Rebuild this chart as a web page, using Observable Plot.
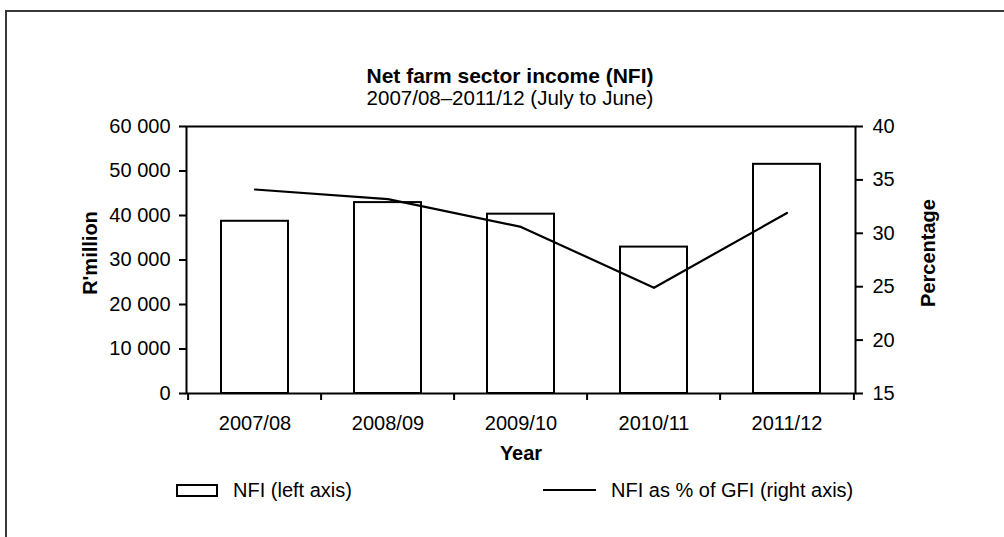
<!DOCTYPE html>
<html><head><meta charset="utf-8">
<script src="https://cdn.jsdelivr.net/npm/d3@7"></script>
<script src="https://cdn.jsdelivr.net/npm/@observablehq/plot@0.6"></script>
<style>
body{margin:0;background:#fff;font-family:"Liberation Sans",Arial,sans-serif;}
#wrap{position:relative;width:1004px;height:537px;overflow:hidden;background:#fff}
#border{position:absolute;left:5px;top:10px;width:1100px;height:700px;border-left:2px solid #383838;border-top:2px solid #383838}
.t{position:absolute;left:0;width:1020px;text-align:center;color:#000;white-space:nowrap;line-height:20px}
#chart{position:absolute;left:0;top:0}
.leg{position:absolute;font-size:20px;line-height:20px;color:#000;white-space:nowrap}
</style></head>
<body>
<div id="wrap">
  <div id="border"></div>
  <div id="chart"></div>
  <div class="t" id="title" style="top:66px;font-size:21px;font-weight:bold"></div>
  <div class="t" id="subtitle" style="top:88px;font-size:20.5px"></div>
  <div id="legBox" style="position:absolute;left:176px;top:484px;width:38px;height:9px;border:2px solid #000;background:#fff"></div>
  <div class="leg" id="legText1" style="left:233px;top:480px"></div>
  <div id="legLine" style="position:absolute;left:543px;top:489px;width:53px;height:2px;background:#000"></div>
  <div class="leg" id="legText2" style="left:611px;top:480px"></div>
</div>
<script>
const titleText = "Net farm sector income (NFI)";
const subtitleText = "2007/08\u20132011/12 (July to June)";
const years = ["2007/08", "2008/09", "2009/10", "2010/11", "2011/12"];
const nfi = [38700, 42900, 40300, 32900, 51500];
const pct = [34.1, 33.2, 30.6, 24.9, 31.9];
const leftTicks = [0, 10000, 20000, 30000, 40000, 50000, 60000];
const rightTicks = [15, 20, 25, 30, 35, 40];
const seriesNames = ["NFI (left axis)", "NFI as % of GFI (right axis)"];
const yLabel = "R'million", y2Label = "Percentage", xLabel = "Year";

document.getElementById("title").textContent = titleText;
document.getElementById("subtitle").textContent = subtitleText;
document.getElementById("legText1").textContent = seriesNames[0];
document.getElementById("legText2").textContent = seriesNames[1];

const yMax = leftTicks[leftTicks.length - 1];
const pMin = rightTicks[0], pMax = rightTicks[rightTicks.length - 1];
const toLeft = p => (p - pMin) / (pMax - pMin) * yMax;
const fromLeft = v => v / yMax * (pMax - pMin) + pMin;
const data = years.map((y, i) => ({year: y, nfi: nfi[i], pct: pct[i]}));

const W = 1004, H = 470, mL = 186, mR = 149, mT = 126, mB = 77;
const plotH = H - mT - mB;
const step = (W - mL - mR) / years.length;
const fmt = d => d3.format(",")(d).replace(/,/g, " ");

const chart = Plot.plot({
  width: W, height: H,
  marginLeft: mL, marginRight: mR, marginTop: mT, marginBottom: mB,
  style: {fontFamily: "Liberation Sans, Arial, sans-serif", fontSize: "20px", color: "#000", background: "transparent"},
  x: {type: "band", domain: years, paddingInner: 0.5, paddingOuter: 0.25},
  y: {domain: [0, yMax]},
  marks: [
    Plot.barY(data, {x: "year", y: "nfi", fill: "white", stroke: "black", strokeWidth: 2}),
    Plot.lineY(data, {x: "year", y: d => toLeft(d.pct), stroke: "black", strokeWidth: 2.2}),
    Plot.frame({stroke: "black", strokeWidth: 2}),
    Plot.axisY({anchor: "left", ticks: leftTicks, tickFormat: fmt, tickSize: 7, tickPadding: 9, strokeWidth: 2, label: null}),
    Plot.axisY({anchor: "right", ticks: rightTicks.map(toLeft), tickFormat: d => String(Math.round(fromLeft(d))), tickSize: 7, tickPadding: 10, strokeWidth: 2, label: null}),
    Plot.axisX({tickSize: 0, tickPadding: 22, label: null}),
    Plot.ruleX(years, {x: d => d, dx: -step / 2, insetTop: plotH, insetBottom: -7, stroke: "black", strokeWidth: 2}),
    Plot.ruleX([years[years.length - 1]], {x: d => d, dx: step / 2, insetTop: plotH, insetBottom: -7, stroke: "black", strokeWidth: 2}),
    Plot.text([yLabel], {text: d => d, frameAnchor: "left", textAnchor: "middle", lineAnchor: "middle", rotate: -90, dx: -96, dy: -7, fontWeight: "bold"}),
    Plot.text([y2Label], {text: d => d, frameAnchor: "right", textAnchor: "middle", lineAnchor: "middle", rotate: -90, dx: 73, dy: -7, fontWeight: "bold"}),
    Plot.text([xLabel], {text: d => d, frameAnchor: "bottom", textAnchor: "middle", lineAnchor: "middle", dy: 60, fontWeight: "bold"})
  ]
});
document.getElementById("chart").appendChild(chart);
</script>
</body></html>
